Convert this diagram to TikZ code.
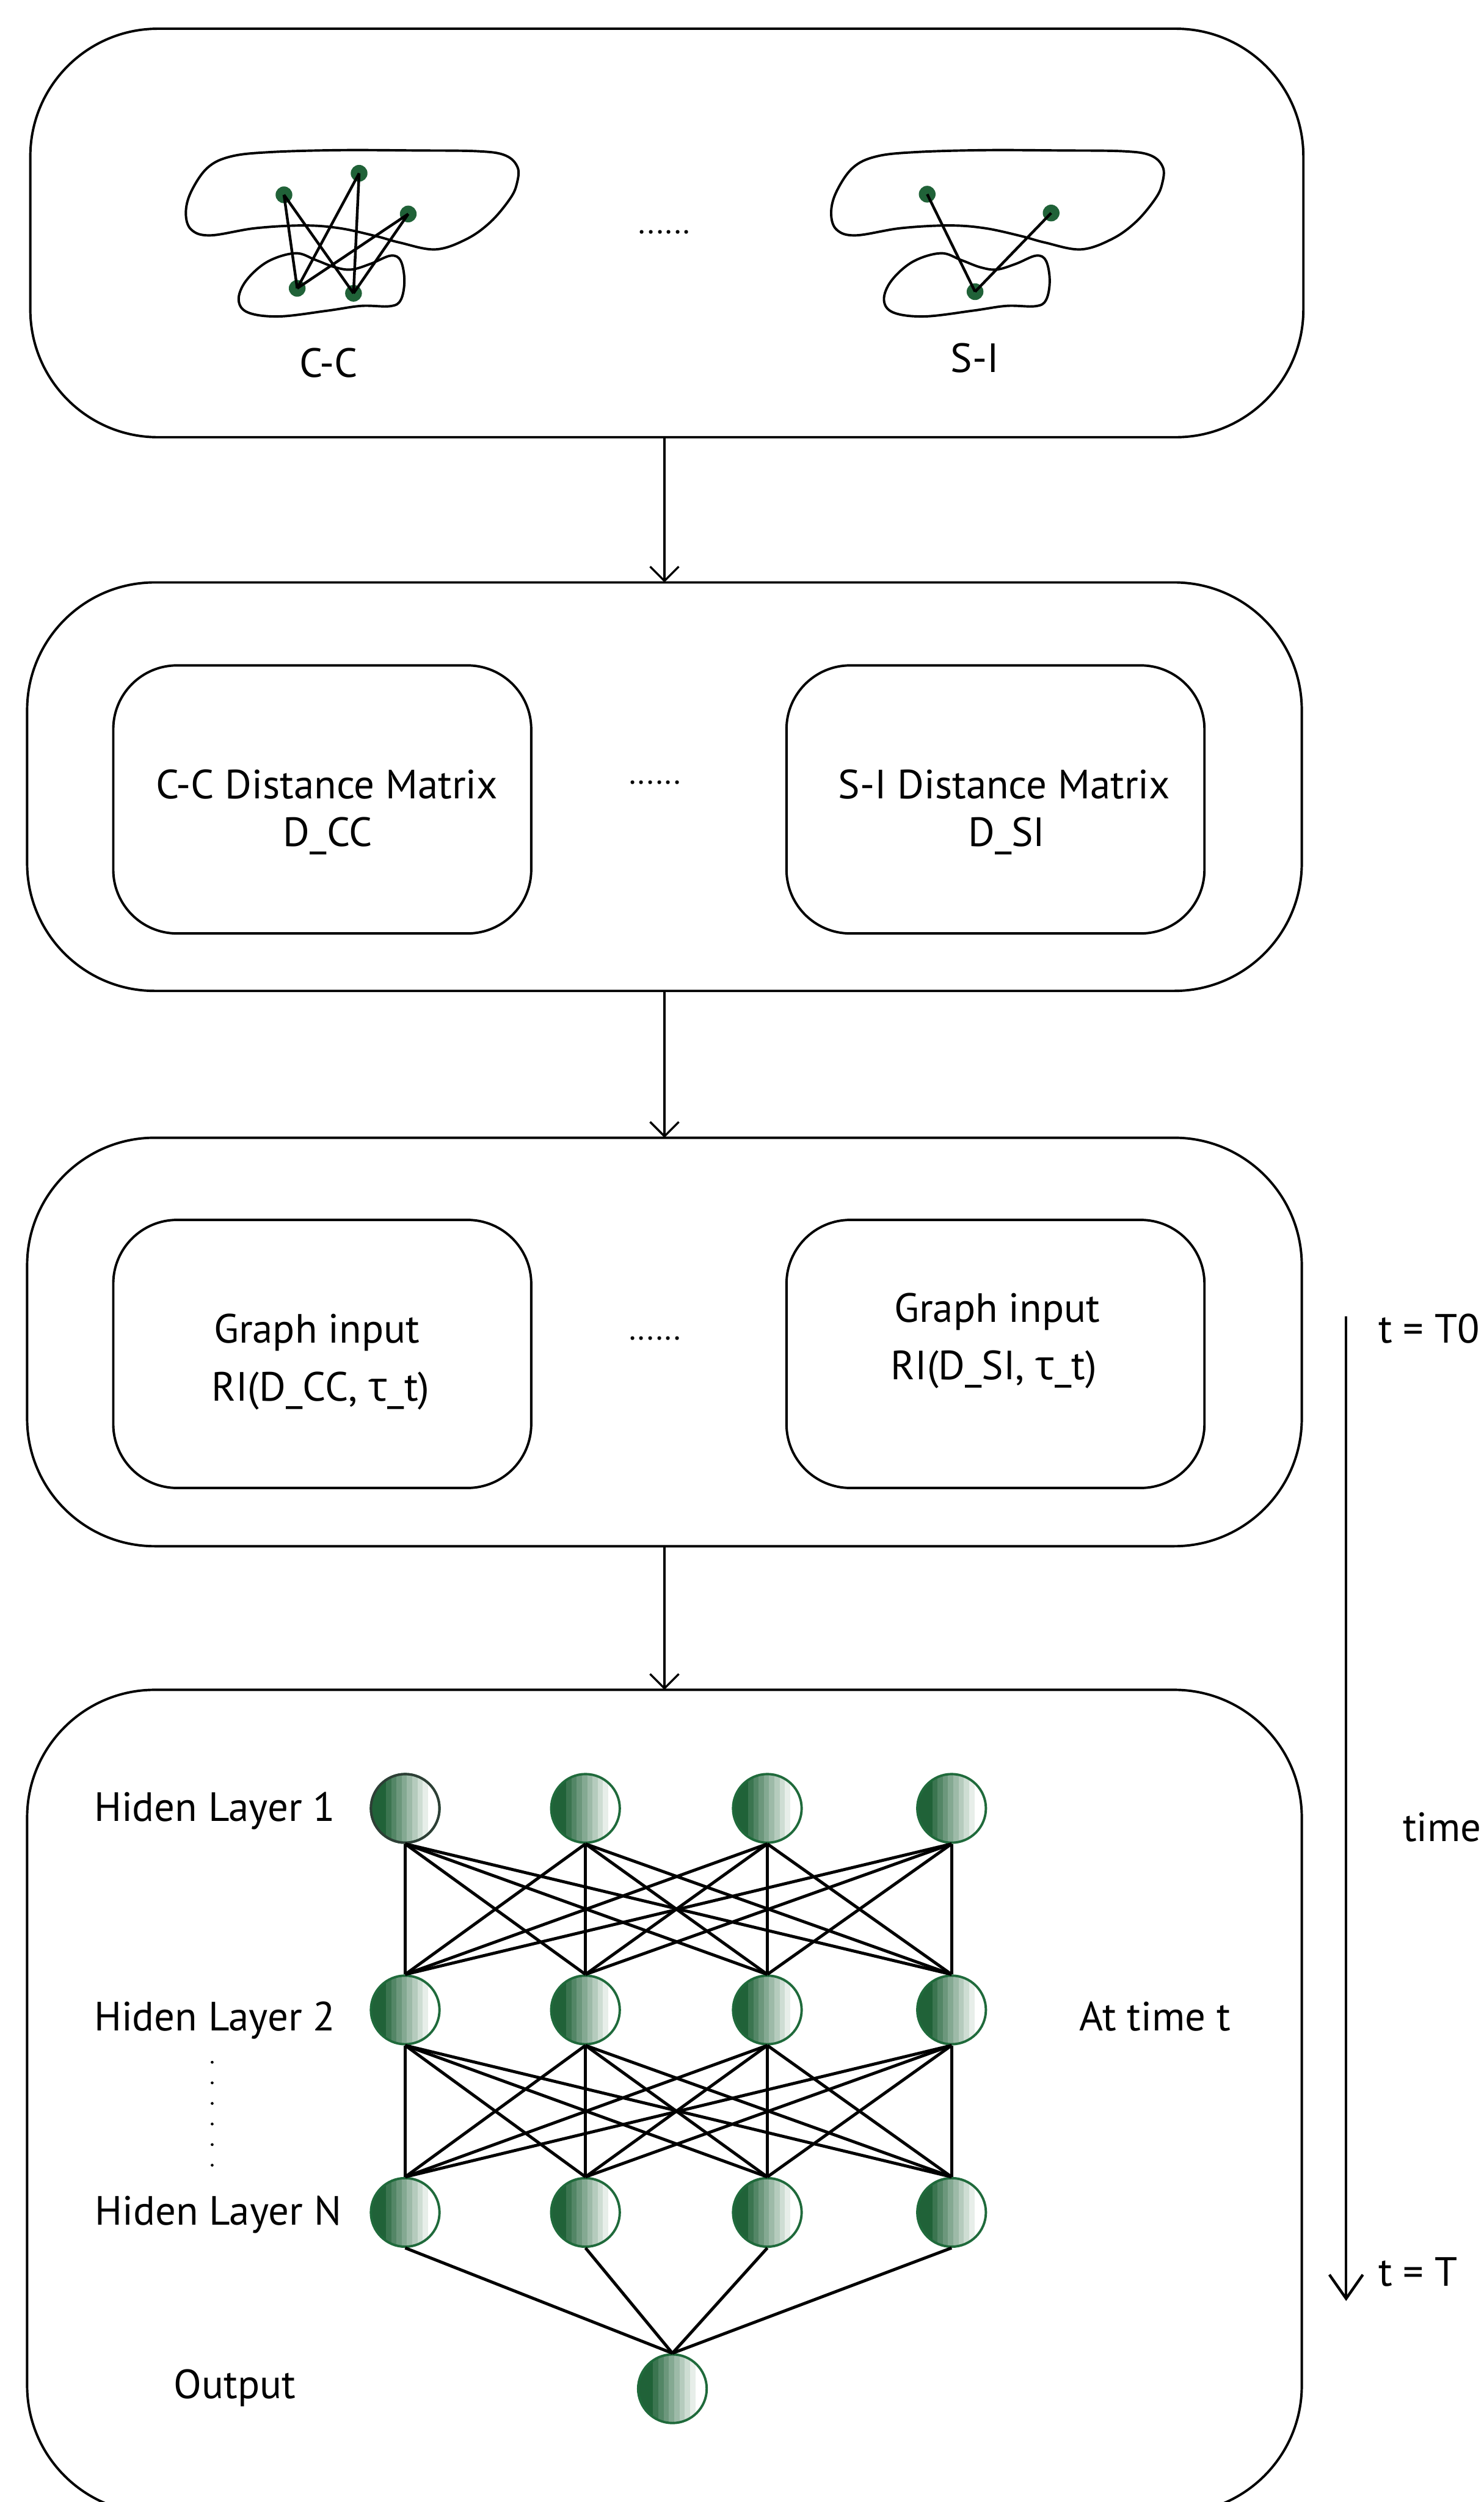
\documentclass[tikz,border=0pt]{standalone}
\usepackage{fontspec}
\setmainfont{PT Sans}
\newfontfamily\grk{Open Sans}
\usetikzlibrary{arrows.meta}
\definecolor{ngreen}{RGB}{32,98,56}
\definecolor{nedge}{RGB}{31,106,59}
\definecolor{ngrey}{RGB}{46,62,54}

% two overlapping regions (large and small), drawn once per graph
\newcommand\regionpair{%
  \draw[blob] plot[smooth cycle, tension=0.6] coordinates {
    (145,98) (170,95.3) (212.8,94.1) (260,94.3) (300,94.8) (317,97.5) (324.5,105)
    (324,115) (319.8,124.4) (307.7,138.9) (292.7,149.7) (273,156.3) (250.5,152)
    (235.4,147.9) (212.8,143) (190.3,141.3) (160.1,143) (132,147.5) (120,144)
    (116.5,134) (119.5,120.8) (130,105.2)};
  \draw[blob] plot[smooth cycle, tension=0.6] coordinates {
    (185.2,158.7) (197.8,162.9) (210,167.5) (220.4,168.9) (232.4,165.3) (245,160.2)
    (251.2,163.5) (253.5,176) (251.2,188) (244.5,191.9) (226.4,191.7) (205.3,194.7)
    (175.2,198.3) (155.6,195.9) (149.6,188) (154.2,176) (167.7,164)};
}

\begin{document}
\begin{tikzpicture}[x=1pt,y=-1pt,
  txt/.style={font=\fontsize{25.6pt}{30pt}\selectfont, inner sep=0pt, outer sep=0pt},
  ellip/.style={font=\fontsize{20pt}{24pt}\selectfont, inner sep=0pt, outer sep=0pt},
  stagebox/.style={draw=black, line width=1.5pt, rounded corners=80pt, inner sep=0pt, outer sep=0pt},
  matbox/.style={draw=black, line width=1.5pt, rounded corners=40pt, inner sep=0pt, outer sep=0pt, minimum width=262pt, minimum height=168pt},
  flow/.style={line width=1.3pt, -{Straight Barb[length=9pt,width=18pt]}},
  timeline/.style={line width=1.7pt, -{Straight Barb[length=15pt,width=21pt]}},
  blob/.style={line width=1.5pt, line join=round},
  site/.style={circle, fill=ngreen, inner sep=0pt, minimum size=10.5pt},
  link/.style={line width=1.7pt},
  % neuron: banded fade from dark green (left) to white (right)
  neuron/.style={circle, draw=nedge, fill=white, line width=1.5pt, inner sep=0pt, minimum size=43pt,
    path picture={
      \fill[ngreen] (path picture bounding box.north west) rectangle ([xshift=9.5pt]path picture bounding box.south west);
      \foreach \k/\m in {0/88,1/77,2/66,3/55,4/44,5/33,6/22,7/11}
        \fill[ngreen!\m!white] ([xshift=9.4pt+3.3pt*\k]path picture bounding box.north west)
          rectangle ([xshift=9.5pt+3.3pt*\k+3.3pt]path picture bounding box.south west);
    }},
  synapse/.style={line width=1.9pt},
  vdot/.style={fill=black}
]
\useasboundingbox (0,0) rectangle (930,1568);

% ---- four stages ----
\node[stagebox, minimum width=798pt, minimum height=256pt] (stage1) at (418,146) {};
\node[stagebox, minimum width=799pt, minimum height=256pt] (stage2) at (416.5,493) {};
\node[stagebox, minimum width=799pt, minimum height=256pt] (stage3) at (416.5,841) {};
\node[stagebox, minimum width=799pt, minimum height=516pt] (stage4) at (416.5,1317) {};

\draw[flow] (stage1.south -| stage2.north) -- (stage2.north);
\draw[flow] (stage2.south) -- (stage3.north);
\draw[flow] (stage3.south) -- (stage4.north);

% ---- stage 1: interaction graphs ----
\regionpair
\begin{scope}[xshift=404.5pt]
  \regionpair
\end{scope}

\node[site] (ca) at (178,122.1) {};
\node[site] (cb) at (225.1,108.6) {};
\node[site] (cc) at (255.9,134.1) {};
\node[site] (cd) at (186.3,180.7) {};
\node[site] (ce) at (221.6,183.8) {};
\foreach \u in {ca,cb,cc}
  \foreach \v in {cd,ce}
    \draw[link] (\u.center) -- (\v.center);

\node[site] (sa) at (581.2,121.7) {};
\node[site] (sb) at (658.9,133.5) {};
\node[site] (sc) at (611.2,182.8) {};
\draw[link] (sa.center) -- (sc.center);
\draw[link] (sb.center) -- (sc.center);

\node[txt, anchor=base] (cclabel) at (206,236.4) {C-C};
\node[txt, anchor=base] (silabel) at (611,233.5) {S-I};
\node[ellip, anchor=base] (dots1) at (416.5,146.5) {......};

% ---- stage 2: distance matrices ----
\node[matbox] (dcc) at (202,501) {};
\node[matbox] (dsi) at (624,501) {};
\node[txt, anchor=base] (dcc1) at (205,500.5) {C-C Distance Matrix};
\node[txt, anchor=base] (dcc2) at (205.5,530.5) {D\_CC};
\node[txt, anchor=base] (dsi1) at (629.5,500.5) {S-I Distance Matrix};
\node[txt, anchor=base] (dsi2) at (631,530.5) {D\_SI};
\node[ellip, anchor=base] (dots2) at (410.5,491.5) {......};

% ---- stage 3: graph inputs ----
\node[matbox] (gcc) at (202,848.5) {};
\node[matbox] (gsi) at (624,848.5) {};
\node[txt, anchor=base] (gcc1) at (198.5,841.5) {Graph input};
\node[txt, anchor=base] (gcc2) at (201,878) {RI(D\_CC, {\grk τ}\_t)};
\node[txt, anchor=base] (gsi1) at (625,828.5) {Graph input};
\node[txt, anchor=base] (gsi2) at (623,864.5) {RI(D\_SI, {\grk τ}\_t)};
\node[ellip, anchor=base] (dots3) at (410.5,839.5) {......};

% ---- stage 4: network ----
\foreach \x [count=\i] in {254,367,481,596.5} {
  \node[neuron] (h1\i) at (\x,1133.3) {};
  \node[neuron] (h2\i) at (\x,1259.6) {};
  \node[neuron] (h3\i) at (\x,1386.5) {};
}
\draw[draw=ngrey, line width=1.5pt] (h11) circle[radius=21.5pt];
\node[neuron] (out) at (421.5,1497) {};

\foreach \i in {1,...,4}
  \foreach \j in {1,...,4} {
    \draw[synapse] (h1\i.south) -- (h2\j.north);
    \draw[synapse] (h2\i.south) -- (h3\j.north);
  }
\foreach \i in {1,...,4}
  \draw[synapse] (h3\i.south) -- (out.north);

\node[txt, anchor=base west] (lay1) at (59,1141.5) {Hiden Layer 1};
\node[txt, anchor=base west] (lay2) at (59,1272.5) {Hiden Layer 2};
\node[txt, anchor=base west] (layn) at (59.5,1394.4) {Hiden Layer N};
\node[txt, anchor=base west] (outlbl) at (109,1503) {Output};
\node[txt, anchor=base] (attime) at (724,1272.5) {At time t};
\foreach \k in {0,...,5}
  \fill[vdot] (133,1292.4+12.9*\k) circle[radius=0.9pt];

% ---- time axis ----
\coordinate (tstart) at (843.8,825);
\coordinate (tend) at (843.8,1442);
\draw[timeline] (tstart) -- (tend);
\node[txt, anchor=base west] (t0) at (864,841.5) {t = T0};
\node[txt, anchor=base] (timelbl) at (904,1154) {time};
\node[txt, anchor=base west] (tT) at (864,1432.5) {t = T};
\end{tikzpicture}
\end{document}
